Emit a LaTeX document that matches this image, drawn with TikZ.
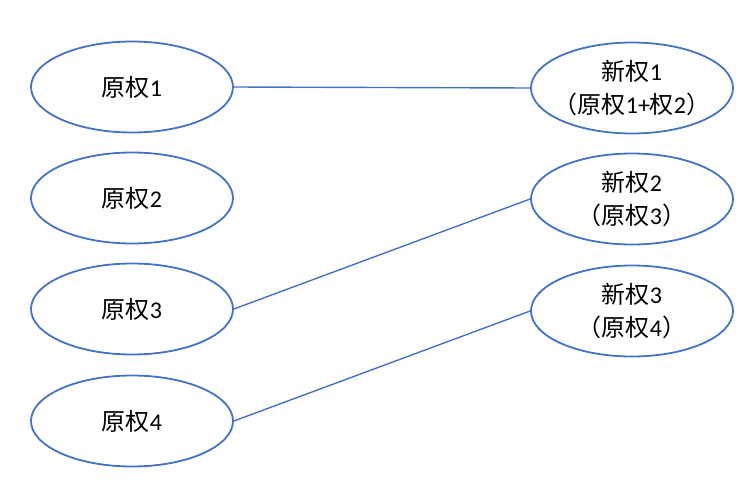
\documentclass[tikz,border=0pt]{standalone}
\usepackage{fontspec}
\setmainfont{Carlito}
\newfontfamily\zhfont{Noto Sans CJK SC}
\usepackage{tikz}
\usetikzlibrary{shapes.geometric,positioning}
\definecolor{linkblue}{HTML}{4472C4}
\newcommand{\zh}[1]{{\zhfont #1}}

\begin{document}
\begin{tikzpicture}[
        x=1pt, y=-1pt,
        every node/.style={font=\fontsize{24}{33}\selectfont, align=center},
        every path/.style={draw=linkblue, line width=1.4pt},
        quan/.style={ellipse, draw=linkblue, line width=1.8pt, minimum width=202pt, minimum height=91pt, inner xsep=-14pt, inner ysep=-6pt}
    ]
    \useasboundingbox[draw=none] (0,0) rectangle (752,482);

    % Nodes
    \node (o1)[quan] at (132,87) {\zh{原权}1};
    \node (o2)[quan] at (132,198) {\zh{原权}2};
    \node (o3)[quan] at (132,309) {\zh{原权}3};
    \node (o4)[quan] at (132,421) {\zh{原权}4};

    \node (n1)[quan] at (632,88) {\zh{新权}1 \\ \zh{（原权}1+\zh{权}2\zh{）}};
    \node (n2)[quan] at (632,199) {\zh{新权}2 \\ \zh{（原权}3\zh{）}};
    \node (n3)[quan] at (632,311) {\zh{新权}3 \\ \zh{（原权}4\zh{）}};

    % Edges
    \draw (o1.east) -- (n1.west);
    \draw (o3.east) -- (n2.west);
    \draw (o4.east) -- (n3.west);

\end{tikzpicture}
\end{document}
